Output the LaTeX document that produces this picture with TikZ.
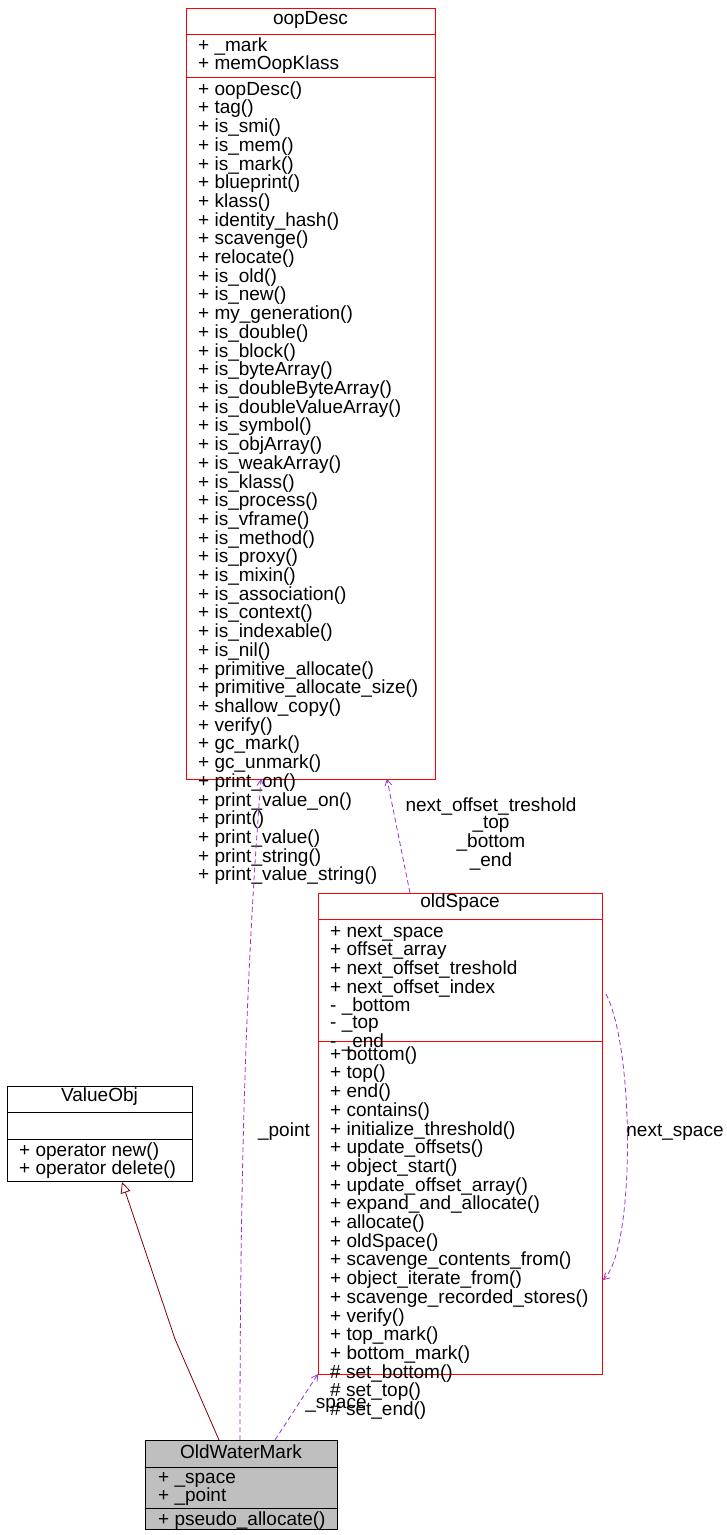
\documentclass[tikz,border=0pt]{standalone}
\usepackage{fontspec}
\setmainfont{Liberation Sans}
\usetikzlibrary{arrows.meta}
\definecolor{dorch}{RGB}{154,50,205}
\newcommand{\lnstrut}{\rule{0pt}{14pt}}
\begin{document}
\begin{tikzpicture}[x=1pt,y=-1pt,
 txt/.style={anchor=north west,align=left,inner sep=0pt,font=\fontsize{19}{16}\selectfont},
 ttl/.style={anchor=center,inner sep=0pt,font=\fontsize{19}{16}\selectfont},
 rbox/.style={draw=red,line width=0.8pt},
 kbox/.style={draw=black,line width=0.8pt},
 dep/.style={draw=dorch,line width=0.8pt,dash pattern=on 5pt off 3pt,-{Straight Barb[length=6pt,width=7pt]}},
 inh/.style={draw=red!50!black,line width=0.8pt,-{Triangle[open,length=11pt,width=10pt]}},
 lbl/.style={font=\fontsize{19}{16}\selectfont,inner sep=0pt,align=center}]
\useasboundingbox (0,0) rectangle (727,1535);
% oopDesc
\draw[rbox] (186,8) rectangle (435,779);
\draw[red,line width=0.8pt] (186,34)--(435,34) (186,77)--(435,77);
\node[ttl] (oopT) at (310.5,20) {oopDesc};
\node[txt] (oopA) at (198,37) {\lnstrut+ \_mark\\+ memOopKlass};
\node[txt] (oopM) at (198,81) {\lnstrut+ oopDesc()\\+ tag()\\+ is\_smi()\\+ is\_mem()\\+ is\_mark()\\+ blueprint()\\+ klass()\\+ identity\_hash()\\+ scavenge()\\+ relocate()\\+ is\_old()\\+ is\_new()\\+ my\_generation()\\+ is\_double()\\+ is\_block()\\+ is\_byteArray()\\+ is\_doubleByteArray()\\+ is\_doubleValueArray()\\+ is\_symbol()\\+ is\_objArray()\\+ is\_weakArray()\\+ is\_klass()\\+ is\_process()\\+ is\_vframe()\\+ is\_method()\\+ is\_proxy()\\+ is\_mixin()\\+ is\_association()\\+ is\_context()\\+ is\_indexable()\\+ is\_nil()\\+ primitive\_allocate()\\+ primitive\_allocate\_size()\\+ shallow\_copy()\\+ verify()\\+ gc\_mark()\\+ gc\_unmark()\\+ print\_on()\\+ print\_value\_on()\\+ print()\\+ print\_value()\\+ print\_string()\\+ print\_value\_string()};
% oldSpace
\draw[rbox] (318,893) rectangle (602,1374);
\draw[red,line width=0.8pt] (318,919)--(602,919) (318,1041)--(602,1041);
\node[ttl] (osT) at (460,903) {oldSpace};
\node[txt] (osA) at (330,923) {\lnstrut+ next\_space\\+ offset\_array\\+ next\_offset\_treshold\\+ next\_offset\_index\\- \_bottom\\- \_top\\- \_end};
\node[txt] (osM) at (330,1046) {\lnstrut+ bottom()\\+ top()\\+ end()\\+ contains()\\+ initialize\_threshold()\\+ update\_offsets()\\+ object\_start()\\+ update\_offset\_array()\\+ expand\_and\_allocate()\\+ allocate()\\+ oldSpace()\\+ scavenge\_contents\_from()\\+ object\_iterate\_from()\\+ scavenge\_recorded\_stores()\\+ verify()\\+ top\_mark()\\+ bottom\_mark()\\\# set\_bottom()\\\# set\_top()\\\# set\_end()};
% ValueObj
\draw[kbox] (7,1086) rectangle (192,1181);
\draw[line width=0.8pt] (7,1112)--(192,1112) (7,1139)--(192,1139);
\node[ttl] (voT) at (99.5,1097) {ValueObj};
\node[txt] (voM) at (19,1142) {\lnstrut+ operator new()\\+ operator delete()};
% OldWaterMark
\draw[kbox,fill=black!25] (145,1440) rectangle (337,1529);
\draw[line width=0.8pt] (145,1467)--(337,1467) (145,1508)--(337,1508);
\node[ttl] (owT) at (241,1452) {OldWaterMark};
\node[txt] (owA) at (158,1469) {\lnstrut+ \_space\\+ \_point};
\node[txt] (owM) at (158,1511) {\lnstrut+ pseudo\_allocate()};
% connectors
\coordinate (owI) at (219,1440);
\coordinate (voB) at (122,1182);
\coordinate (owP) at (240,1440);
\coordinate (oopB1) at (261,779);
\coordinate (owS) at (275,1440);
\coordinate (osBL) at (318,1374);
\coordinate (osTop) at (410,893);
\coordinate (oopB2) at (387,779);
\coordinate (osR1) at (606,994);
\coordinate (osR2) at (603,1280);
\draw[inh] (owI) -- (175,1339) -- (voB);
\draw[dep] (owP) .. controls (240,1150) and (247,960) .. (oopB1);
\draw[dep] (owS) -- (osBL);
\draw[dep] (osTop) -- (oopB2);
\draw[dep] (osR1) .. controls (635,1050) and (635,1250) .. (osR2);
\node[lbl] (lp) at (284,1132) {\_point};
\node[lbl] (ls) at (336,1405) {\_space};
\node[lbl] (lo) at (491,834) {next\_offset\_treshold\\\_top\\\_bottom\\\_end};
\node[lbl] (ln) at (675,1132) {next\_space};
\end{tikzpicture}
\end{document}
